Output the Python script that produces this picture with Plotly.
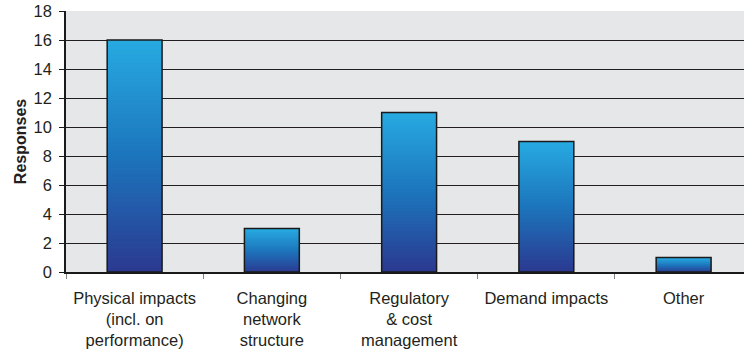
import plotly.graph_objects as go

categories = [
    "Physical impacts<br>(incl. on<br>performance)",
    "Changing<br>network<br>structure",
    "Regulatory<br>& cost<br>management",
    "Demand impacts",
    "Other",
]
responses = [16, 3, 11, 9, 1]
y_ticks = [0, 2, 4, 6, 8, 10, 12, 14, 16, 18]

# gradient stops (bottom -> top)
stops = [(0.0, (43, 57, 144)), (0.5, (28, 117, 188)), (1.0, (39, 170, 225))]


def interp(t):
    for (t0, c0), (t1, c1) in zip(stops[:-1], stops[1:]):
        if t0 <= t <= t1:
            f = (t - t0) / (t1 - t0)
            return "rgb(%d,%d,%d)" % tuple(round(a + (b - a) * f) for a, b in zip(c0, c1))
    return "rgb(%d,%d,%d)" % stops[-1][1]


N = 50
fig = go.Figure()
for i in range(N):
    col = interp((i + 0.5) / N)
    span = 2 if i < N - 1 else 1  # overlap the next slice to hide seams
    fig.add_trace(go.Bar(
        x=categories,
        y=[v * span / N for v in responses],
        base=[v * i / N for v in responses],
        width=0.4,
        marker=dict(color=col, line=dict(width=0)),
        hoverinfo="skip",
        showlegend=False,
    ))

fig.add_trace(go.Bar(
    x=categories,
    y=responses,
    width=0.4,
    marker=dict(color="rgba(0,0,0,0)", line=dict(color="#1a1a1a", width=1.5)),
    showlegend=False,
))

font_family = "Liberation Sans, Arial, sans-serif"
fig.update_layout(
    width=744,
    height=354,
    margin=dict(l=66, r=0, t=11, b=82),
    barmode="overlay",
    paper_bgcolor="white",
    plot_bgcolor="#e6e7e8",
    font=dict(family=font_family, size=16, color="#231f20"),
    xaxis=dict(
        range=[-0.5, 4.44],
        tickson="boundaries",
        ticks="outside",
        ticklen=5,
        tickcolor="#808080",
        tickwidth=1,
        showline=True,
        linecolor="#1a1a1a",
        linewidth=1.5,
        showgrid=False,
        ticklabelstandoff=10,
        tickfont=dict(size=16.5),
    ),
    yaxis=dict(
        range=[0, 18],
        tickvals=y_ticks,
        ticks="outside",
        ticklen=5,
        tickcolor="#1a1a1a",
        showline=True,
        linecolor="#1a1a1a",
        linewidth=1.5,
        showgrid=True,
        gridcolor="#231f20",
        gridwidth=1,
        zeroline=False,
        ticklabelstandoff=4,
        tickfont=dict(size=16.5),
        title=dict(text="<b>Responses</b>", font=dict(size=16), standoff=3),
    ),
)

fig.write_html("out.html")
